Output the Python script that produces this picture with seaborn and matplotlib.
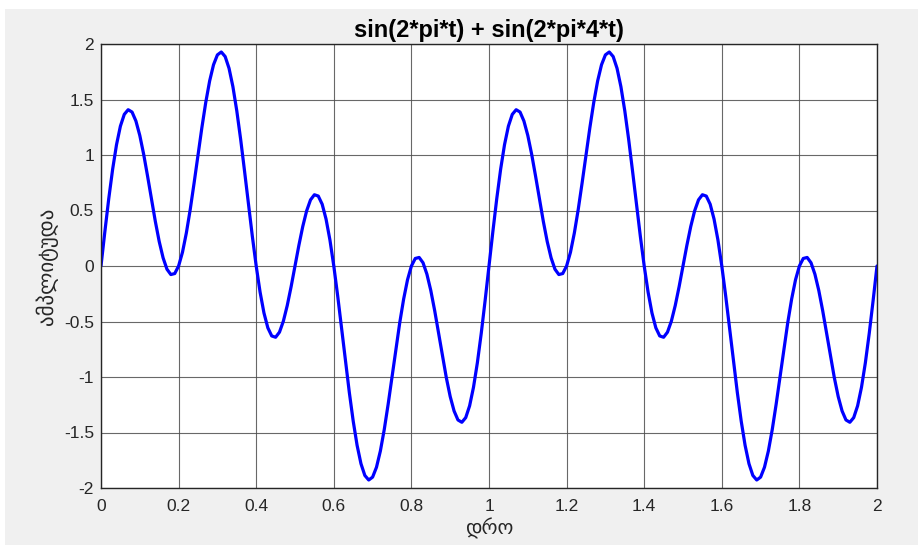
import numpy as np
import pandas as pd
import matplotlib
matplotlib.use("Agg")
import matplotlib.pyplot as plt
import seaborn as sns
from matplotlib.patches import Rectangle

# one period of the signal, t = 0 .. 1 step 0.01 (the picture repeats it for t = 1 .. 2)
period_t = [round(0.01 * k, 2) for k in range(101)]
period_y = [
    0.000, 0.311, 0.607, 0.872, 1.093, 1.260, 1.366, 1.408, 1.387, 1.306,
    1.176, 1.006, 0.810, 0.604, 0.402, 0.221, 0.074, -0.029, -0.077, -0.068,
    0.000, 0.124, 0.298, 0.510, 0.749, 1.000, 1.247, 1.474, 1.667, 1.813,
    1.902, 1.928, 1.887, 1.781, 1.615, 1.397, 1.139, 0.854, 0.559, 0.269,
    0.000, -0.235, -0.423, -0.557, -0.630, -0.642, -0.596, -0.497, -0.356, -0.186,
    0.000, 0.186, 0.356, 0.497, 0.596, 0.642, 0.630, 0.557, 0.423, 0.235,
    0.000, -0.269, -0.559, -0.854, -1.139, -1.397, -1.615, -1.781, -1.887, -1.928,
    -1.902, -1.813, -1.667, -1.474, -1.247, -1.000, -0.749, -0.510, -0.298, -0.124,
    0.000, 0.068, 0.077, 0.029, -0.074, -0.221, -0.402, -0.604, -0.810, -1.006,
    -1.176, -1.306, -1.387, -1.408, -1.366, -1.260, -1.093, -0.872, -0.607, -0.311,
    0.000,
]
xticks = [0, 0.2, 0.4, 0.6, 0.8, 1, 1.2, 1.4, 1.6, 1.8, 2]
yticks = [-2, -1.5, -1, -0.5, 0, 0.5, 1, 1.5, 2]
tick_labels_x = ["0", "0.2", "0.4", "0.6", "0.8", "1", "1.2", "1.4", "1.6", "1.8", "2"]
tick_labels_y = ["-2", "-1.5", "-1", "-0.5", "0", "0.5", "1", "1.5", "2"]

df = pd.DataFrame({
    "t": period_t + [round(1 + v, 2) for v in period_t[1:]],
    "y": period_y + period_y[1:],
})

sns.set_style("white")
plt.rcParams["font.family"] = ["Liberation Sans", "DejaVu Sans"]

fig = plt.figure(figsize=(9.18, 5.45), dpi=100)
fig.patch.set_facecolor("white")
fig.patches.append(Rectangle((5 / 918, 0), 1, 1 - 9 / 545, transform=fig.transFigure,
                             facecolor="#f0f0f0", edgecolor="none", zorder=-10))
ax = fig.add_axes([101 / 918, 1 - 488 / 545, 776 / 918, 444 / 545])
ax.set_facecolor("white")

sns.lineplot(data=df, x="t", y="y", ax=ax, color="#0000ff", linewidth=2.3)

ax.set_xlim(0, 2)
ax.set_ylim(-2, 2)
ax.set_xticks(xticks)
ax.set_xticklabels(tick_labels_x)
ax.set_yticks(yticks)
ax.set_yticklabels(tick_labels_y)
ax.grid(True, color="#4d4d4d", linewidth=0.8, alpha=0.85)
ax.set_axisbelow(True)
ax.tick_params(direction="in", length=5, width=0.8, colors="#262626",
               labelsize=12.5, labelcolor="#262626")
ax.tick_params(axis="x", pad=8)
ax.tick_params(axis="y", pad=5)
for s in ax.spines.values():
    s.set_color("#262626")
    s.set_linewidth(1.0)
    s.set_visible(True)

ax.set_title("sin(2*pi*t) + sin(2*pi*4*t)", fontsize=17, fontweight="bold",
             color="#000000", pad=5)
ax.set_xlabel("დრო", fontsize=14.5, family="DejaVu Sans", color="#262626", labelpad=3)
ax.set_ylabel("ამპლიტუდა", fontsize=15, family="DejaVu Sans", color="#262626", labelpad=4)

fig.savefig("out.png", dpi=100, facecolor=fig.get_facecolor())
